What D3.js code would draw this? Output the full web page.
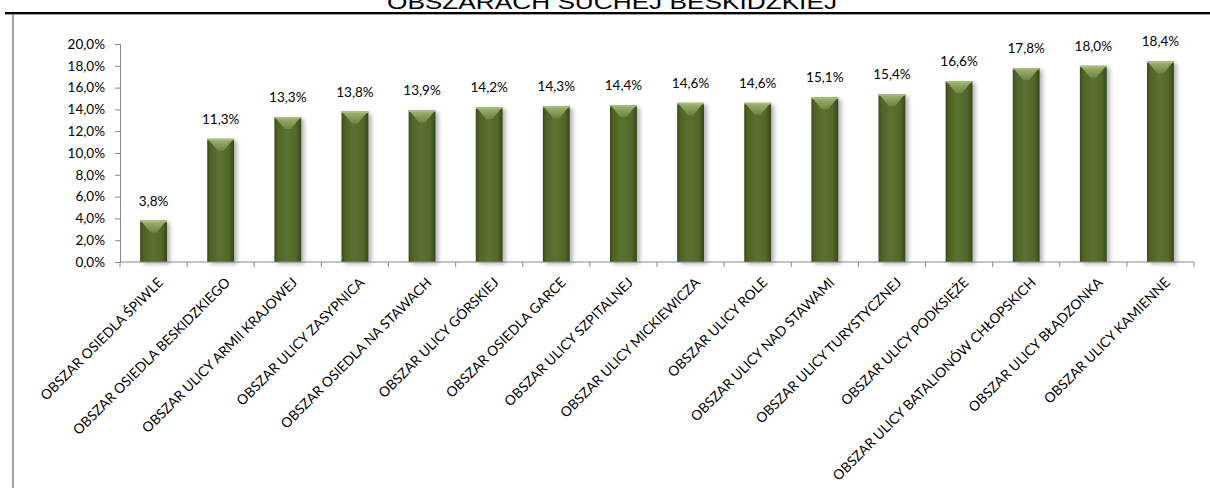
<!DOCTYPE html>
<html><head><meta charset="utf-8">
<script src="https://cdn.jsdelivr.net/npm/d3@7"></script>
<style>
html,body{margin:0;padding:0;background:#fff;}
svg{display:block;}
</style></head>
<body>
<svg id="chart" width="1210" height="488"></svg>
<script>
const titleText = "OBSZARACH SUCHEJ BESKIDZKIEJ";
const categories = [
  "OBSZAR OSIEDLA ŚPIWLE",
  "OBSZAR OSIEDLA BESKIDZKIEGO",
  "OBSZAR ULICY ARMII KRAJOWEJ",
  "OBSZAR ULICY ZASYPNICA",
  "OBSZAR OSIEDLA NA STAWACH",
  "OBSZAR ULICY GÓRSKIEJ",
  "OBSZAR OSIEDLA GARCE",
  "OBSZAR ULICY SZPITALNEJ",
  "OBSZAR ULICY MICKIEWICZA",
  "OBSZAR ULICY ROLE",
  "OBSZAR ULICY NAD STAWAMI",
  "OBSZAR ULICY TURYSTYCZNEJ",
  "OBSZAR ULICY PODKSIĘŻE",
  "OBSZAR ULICY BATALIONÓW CHŁOPSKICH",
  "OBSZAR ULICY BŁĄDZONKA",
  "OBSZAR ULICY KAMIENNE"
];
const values = [3.8, 11.3, 13.3, 13.8, 13.9, 14.2, 14.3, 14.4, 14.6, 14.6, 15.1, 15.4, 16.6, 17.8, 18.0, 18.4];
const yTicks = [0, 2, 4, 6, 8, 10, 12, 14, 16, 18, 20];

const svg = d3.select("#chart");
const fmt = v => v.toFixed(1).replace(".", ",") + "%";
const labelFont = "Lato, 'Open Sans', sans-serif";

// frame
svg.append("line").attr("x1", 5).attr("x2", 1210).attr("y1", 14.5).attr("y2", 14.5)
  .attr("stroke", "#a0a0a0").attr("stroke-width", 1);
svg.append("line").attr("x1", 5).attr("x2", 1210).attr("y1", 13).attr("y2", 13)
  .attr("stroke", "#000").attr("stroke-width", 2);
svg.append("line").attr("x1", 13).attr("x2", 13).attr("y1", 14).attr("y2", 488)
  .attr("stroke", "#8c8c8c").attr("stroke-width", 1.6);

// title (cut off at the top edge, as in the reference)
svg.append("text").attr("x", 612).attr("y", 9).attr("text-anchor", "middle")
  .attr("font-family", "Liberation Sans, Arial, sans-serif").attr("font-size", 21)
  .attr("textLength", 450).attr("lengthAdjust", "spacingAndGlyphs")
  .attr("fill", "#000").text(titleText);

const x = d3.scaleBand().domain(categories).range([120, 1194]).paddingInner(0.6).paddingOuter(0.3);
const y = d3.scaleLinear().domain([0, 20]).range([262, 44]);

const defs = svg.append("defs");
const g = defs.append("linearGradient").attr("id", "barGrad").attr("x1", "0").attr("x2", "1").attr("y1", "0").attr("y2", "0");
[["0%", "#3a4a1b"], ["12%", "#4f6226"], ["45%", "#5c7230"], ["80%", "#53682a"], ["100%", "#37461a"]]
  .forEach(([o, c]) => g.append("stop").attr("offset", o).attr("stop-color", c));
const gb = defs.append("linearGradient").attr("id", "bevGrad").attr("x1", "0").attr("x2", "0").attr("y1", "0").attr("y2", "1");
[["0%", "#a8bd7a"], ["100%", "#6f8840"]].forEach(([o, c]) => gb.append("stop").attr("offset", o).attr("stop-color", c));
const f = defs.append("filter").attr("id", "shadow").attr("x", "-30%").attr("y", "-10%").attr("width", "170%").attr("height", "130%");
f.append("feDropShadow").attr("dx", 3).attr("dy", 2).attr("stdDeviation", 2.2)
  .attr("flood-color", "#000").attr("flood-opacity", 0.3);

// y axis
const yAxis = d3.axisLeft(y).tickValues(yTicks).tickSize(5).tickFormat(fmt);
const ya = svg.append("g").attr("transform", "translate(120,0)").call(yAxis);
ya.select(".domain").attr("stroke", "#868686");
ya.selectAll(".tick line").attr("stroke", "#868686");
ya.selectAll("text").attr("font-family", labelFont).attr("font-size", 13.5)
  .attr("fill", "#000").attr("x", -15);

// bars
const bars = svg.append("g");
categories.forEach((c, i) => {
  const v = values[i];
  const x0 = x(c), bw = x.bandwidth(), top = y(v), bottom = y(0);
  const bg = bars.append("g");
  bg.append("rect").attr("x", x0).attr("y", top).attr("width", bw).attr("height", bottom - top)
    .attr("fill", "url(#barGrad)").attr("filter", "url(#shadow)");
  bg.append("path")
    .attr("d", `M${x0},${top} L${x0 + bw},${top} L${x0 + bw - 3},${top + 3} L${x0 + bw / 2 + 3},${top + 12} L${x0 + bw / 2 - 3},${top + 12} L${x0 + 3},${top + 3} Z`)
    .attr("fill", "url(#bevGrad)").attr("opacity", 0.9);
  bg.append("rect").attr("x", x0).attr("y", top).attr("width", bw).attr("height", 1.5).attr("fill", "#a9bd7f");
});

// x axis
const xa = svg.append("g").attr("transform", "translate(0,262)");
xa.append("line").attr("x1", 120).attr("x2", 1194).attr("stroke", "#868686");
const step = x.step();
d3.range(categories.length + 1).forEach(i => {
  const xx = x(categories[0]) - x.paddingOuter() * step + i * step;
  xa.append("line").attr("x1", xx).attr("x2", xx).attr("y1", 0).attr("y2", 5).attr("stroke", "#868686");
});

// value labels
svg.append("g").selectAll("text").data(values).join("text")
  .attr("x", (d, i) => x(categories[i]) + x.bandwidth() / 2)
  .attr("y", d => y(d) - 15)
  .attr("text-anchor", "middle")
  .attr("font-family", labelFont).attr("font-size", 13.5).attr("fill", "#000")
  .text(fmt);

// category labels
svg.append("g").selectAll("text").data(categories).join("text")
  .attr("transform", c => `translate(${x(c) + x.bandwidth() / 2 + 7},${280}) rotate(-45)`)
  .attr("text-anchor", "end").attr("dy", "0.35em")
  .attr("font-family", labelFont).attr("font-size", 13.8).attr("fill", "#000")
  .text(c => c);
</script>
</body></html>
